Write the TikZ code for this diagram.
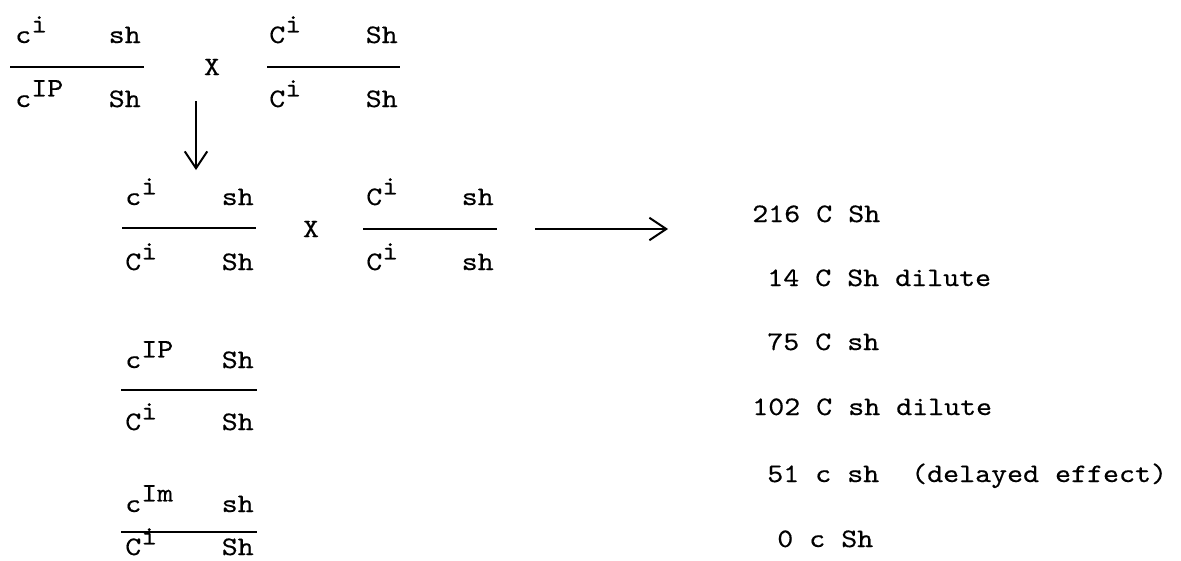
\documentclass[tikz,border=0pt]{standalone}
\usepackage{fontspec}
\setmonofont{lmmono10-regular}[Extension=.otf,FakeStretch=1.14,FakeBold=0.4]
\usetikzlibrary{arrows.meta}
\newcommand{\typeup}[1]{\raisebox{7.5pt}{#1}}

\begin{document}
\begin{tikzpicture}[
	x=0.025cm, y=-0.025cm,
	ty/.style={ font=\ttfamily\fontsize{19}{21}\selectfont, inner sep=0pt, anchor=base west },
	tyr/.style={ ty, anchor=base east },
	tyc/.style={ font=\ttfamily\fontsize{19}{21}\selectfont, inner sep=0pt },
	bar/.style={ line width=1.4pt },
	arr/.style={ line width=1.4pt, -{Straight Barb[length=12pt,width=16pt,line width=1.4pt]} }
]
\useasboundingbox (0,0) rectangle (1181,560);

\node[ty] at (15,43) (p1nl) {c\typeup{i}};
\node[tyr] at (141,43) (p1nr) {sh};
\node[ty] at (15,107) (p1dl) {c\typeup{IP}};
\node[tyr] at (141,107) (p1dr) {Sh};
\coordinate (p1a) at (10,67);
\coordinate (p1b) at (144,67);
\draw[bar] (p1a) to (p1b);

\node[tyc] at (212,67) (x1) {X};

\node[ty] at (269,43) (p2nl) {C\typeup{i}};
\node[tyr] at (398,43) (p2nr) {Sh};
\node[ty] at (269,107) (p2dl) {C\typeup{i}};
\node[tyr] at (398,107) (p2dr) {Sh};
\coordinate (p2a) at (267,67);
\coordinate (p2b) at (400,67);
\draw[bar] (p2a) to (p2b);

\coordinate (d1) at (196,101);
\coordinate (d2) at (196,170);
\draw[arr] (d1) to (d2);

\node[ty] at (125,205) (f1nl) {c\typeup{i}};
\node[tyr] at (254,205) (f1nr) {sh};
\node[ty] at (125,270) (f1dl) {C\typeup{i}};
\node[tyr] at (254,270) (f1dr) {Sh};
\coordinate (f1a) at (122,228);
\coordinate (f1b) at (256,228);
\draw[bar] (f1a) to (f1b);

\node[tyc] at (311,229) (x2) {X};

\node[ty] at (366,205) (f2nl) {C\typeup{i}};
\node[tyr] at (494,205) (f2nr) {sh};
\node[ty] at (366,270) (f2dl) {C\typeup{i}};
\node[tyr] at (494,270) (f2dr) {sh};
\coordinate (f2a) at (363,229);
\coordinate (f2b) at (497,229);
\draw[bar] (f2a) to (f2b);

\coordinate (r1) at (535,229);
\coordinate (r2) at (668,229);
\draw[arr] (r1) to (r2);

\node[ty] at (125,368) (g1nl) {c\typeup{IP}};
\node[tyr] at (254,368) (g1nr) {Sh};
\node[ty] at (125,430) (g1dl) {C\typeup{i}};
\node[tyr] at (254,430) (g1dr) {Sh};
\coordinate (g1a) at (121,390);
\coordinate (g1b) at (257,390);
\draw[bar] (g1a) to (g1b);

\node[ty] at (125,512) (g2nl) {c\typeup{Im}};
\node[tyr] at (254,512) (g2nr) {sh};
\node[ty] at (125,555) (g2dl) {C\typeup{i}};
\node[tyr] at (254,555) (g2dr) {Sh};
\coordinate (g2a) at (121,532);
\coordinate (g2b) at (257,532);
\draw[bar] (g2a) to (g2b);

\node[ty] at (752,222) (o1) {216 C Sh};
\node[ty] at (767,286) (o2) {14 C Sh dilute};
\node[ty] at (767,350) (o3) {75 C sh};
\node[ty] at (752,415) (o4) {102 C sh dilute};
\node[ty] at (767,482) (o5) {51 c sh\ \ (delayed effect)};
\node[ty] at (777,547) (o6) {0 c Sh};

\end{tikzpicture}
\end{document}
